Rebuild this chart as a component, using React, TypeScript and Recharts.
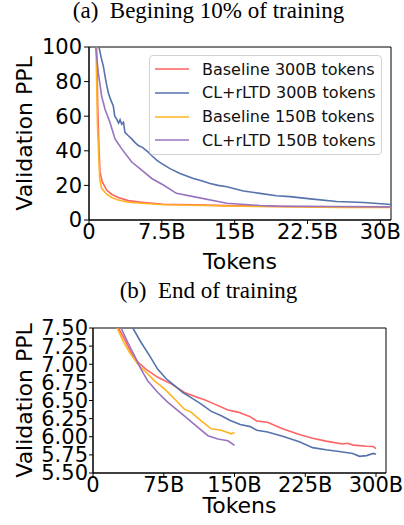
import { LineChart, Line, XAxis, YAxis, Legend, ReferenceArea } from 'recharts';

// (a) first 10% of training, x in billions of tokens
const blue300X = [1.03, 1.25, 1.48, 1.75, 1.99, 2.2, 2.5, 2.65, 2.85, 3.05, 3.2, 3.37, 3.55, 3.7, 4.0, 4.4, 4.7, 5.08, 5.5, 6.1, 6.5, 7.0, 7.5, 8.34, 9.37, 10.75, 11.5, 12.47, 13.3, 14.2, 15.9, 17.6, 19.3, 20.7, 22.8, 25.5, 28.3, 31.1];
const blue300Y = [100, 94, 88.8, 80, 73.5, 70, 65.9, 60, 58.3, 56, 58, 55.4, 56.5, 50.7, 49, 46.9, 45, 43, 42, 39.2, 37, 34.5, 32.6, 29.7, 26.9, 24, 22.8, 21.1, 20, 19.2, 16.8, 15.4, 14, 13.5, 12.2, 10.7, 10.1, 9.0];
const purple150X = [0.69, 0.96, 1.3, 1.65, 2.16, 2.68, 3.37, 4.4, 5.43, 6.46, 7.66, 9.0, 10.75, 14.2, 17.6, 19.3, 25, 31.1];
const purple150Y = [100, 85, 71.6, 64, 56.4, 46.9, 41.1, 33.5, 28.8, 24, 20.2, 15.4, 13.5, 9.7, 8.4, 8.0, 7.8, 7.6];
const red300X = [0.79, 0.9, 1.03, 1.13, 1.37, 1.82, 2.33, 3.0, 4.05, 5.43, 7.66, 10.75, 14.2, 17.6, 22, 26, 31.1];
const red300Y = [100, 65.9, 41, 27.8, 22, 17.3, 14.9, 13, 11.2, 10.3, 9.1, 8.8, 8.3, 8.0, 7.7, 7.5, 7.4];
const orange150X = [0.72, 0.87, 1.1, 1.3, 1.82, 2.33, 3.0, 4.05, 5.43, 7.66, 10.75, 14.2, 17.6, 22, 26, 31.1];
const orange150Y = [100, 55, 24, 18.3, 14.9, 13, 11.6, 10.3, 9.7, 8.8, 8.5, 8.1, 7.8, 7.5, 7.3, 7.2];

// (b) end of training
const redEndX = [27, 33.3, 40.4, 47.5, 56.3, 68.7, 82.9, 97, 111, 118.3, 129, 143, 153.7, 166, 173.6, 185, 201, 218.7, 232.8, 247, 264.7, 270, 276, 290, 297, 300];
const redEndY = [7.5, 7.35, 7.165, 7.03, 6.93, 6.82, 6.73, 6.61, 6.54, 6.51, 6.45, 6.37, 6.34, 6.28, 6.217, 6.2, 6.11, 6.03, 5.98, 5.94, 5.9, 5.91, 5.885, 5.87, 5.865, 5.836];
const blueEndX = [42.2, 51, 59.9, 68.7, 77.6, 86.5, 95.3, 104, 114.7, 125.4, 136, 145, 156, 166.7, 173.6, 185, 201, 218.7, 232.8, 247, 264.7, 275.4, 282.5, 290, 297, 300];
const blueEndY = [7.5, 7.3, 7.12, 6.93, 6.8, 6.705, 6.61, 6.54, 6.45, 6.35, 6.29, 6.227, 6.17, 6.14, 6.09, 6.065, 6.006, 5.93, 5.85, 5.82, 5.79, 5.77, 5.73, 5.74, 5.77, 5.76];
const orangeEndX = [25.5, 31.6, 38.6, 47.5, 56.3, 65.2, 75.8, 86.5, 97, 104, 114.7, 125.4, 136, 146.6, 150];
const orangeEndY = [7.5, 7.33, 7.165, 7.0, 6.89, 6.77, 6.66, 6.52, 6.38, 6.34, 6.22, 6.11, 6.09, 6.04, 6.06];
const purpleEndX = [29.8, 36.9, 43.9, 51, 58.1, 68.7, 79.4, 90, 100.6, 111.2, 121.9, 132.5, 143, 150];
const purpleEndY = [7.5, 7.3, 7.12, 6.93, 6.77, 6.61, 6.475, 6.36, 6.245, 6.13, 6.015, 5.97, 5.945, 5.88];

const seriesNames = ['Baseline 300B tokens', 'CL+rLTD 300B tokens', 'Baseline 150B tokens', 'CL+rLTD 150B tokens'];
const topXTicks = [0, 7.5, 15, 22.5, 30];
const topYTicks = [0, 20, 40, 60, 80, 100];
const endXTicks = [0, 75, 150, 225, 300];
const endYTicks = [5.5, 5.75, 6.0, 6.25, 6.5, 6.75, 7.0, 7.25, 7.5];

const COLORS = ['#ff6262', '#5572ad', '#ffb320', '#9873bf'];
const FONT = 'DejaVu Sans, sans-serif';
const SERIF = 'Liberation Serif, Times New Roman, serif';

const zip = (xs: number[], ys: number[]) => xs.map((x, i) => ({ x, y: ys[i] }));

const topSeries = [zip(red300X, red300Y), zip(blue300X, blue300Y), zip(orange150X, orange150Y), zip(purple150X, purple150Y)];
const endSeries = [zip(redEndX, redEndY), zip(blueEndX, blueEndY), zip(orangeEndX, orangeEndY), zip(purpleEndX, purpleEndY)];

const tickStyle = { fontSize: 21, fill: '#000', fontFamily: FONT };
const labelStyle = { fontSize: 22, fill: '#000', fontFamily: FONT };

const fmtB = (v: number) => (v === 0 ? '0' : `${v}B`);

// legend keeps the plotting order (recharts would sort it by name)
function LegendBox() {
  return (
    <div style={{ width: 233, height: 100, boxSizing: 'border-box', border: '1px solid #d2d2d2', borderRadius: 4, background: 'rgba(255,255,255,0.85)', position: 'relative', fontFamily: FONT, fontSize: 16 }}>
      {seriesNames.map((name, i) => (
        <div key={name} style={{ position: 'absolute', left: 4, top: 2 + i * 23.8, height: 22, display: 'flex', alignItems: 'center' }}>
          <svg width={36} height={6} style={{ marginRight: 12 }}>
            <line x1={1} y1={3} x2={35} y2={3} stroke={COLORS[i]} strokeWidth={1.6} />
          </svg>
          <span style={{ color: '#111', whiteSpace: 'nowrap' }}>{name}</span>
        </div>
      ))}
    </div>
  );
}

function Title({ text, top }: { text: string; top: number }) {
  return (
    <svg width={404} height={30} style={{ position: 'absolute', left: 0, top, overflow: 'visible' }}>
      <text x={208.5} y={17.5} textAnchor="middle" fontFamily={SERIF} fontSize={23} fill="#000" style={{ whiteSpace: 'pre' }}>
        {text}
      </text>
    </svg>
  );
}

export default function App() {
  return (
    <div style={{ position: 'absolute', left: 0, top: 0, width: 404, height: 525, background: '#fff', overflow: 'hidden' }}>
      <Title text={'(a)  Begining 10% of training'} top={0} />
      <div style={{ position: 'absolute', left: 0, top: 30 }}>
        <LineChart width={404} height={260} margin={{ top: 17, right: 13, bottom: 20, left: 0 }}>
          <XAxis
            type="number"
            dataKey="x"
            domain={[0, 31.1]}
            ticks={topXTicks}
            interval={0}
            tickFormatter={fmtB}
            allowDataOverflow
            height={50}
            tick={tickStyle}
            tickSize={4}
            tickMargin={0}
            stroke="#000"
            label={{ value: 'Tokens', position: 'insideBottom', offset: 1, style: labelStyle }}
          />
          <YAxis
            type="number"
            dataKey="y"
            domain={[0, 100]}
            ticks={topYTicks}
            interval={0}
            allowDataOverflow
            width={89}
            tick={tickStyle}
            tickSize={5}
            tickMargin={2}
            stroke="#000"
            label={{ value: 'Validation PPL', angle: -90, position: 'insideLeft', offset: 24, style: { ...labelStyle, textAnchor: 'middle' } }}
          />
          <ReferenceArea x1={0} x2={31.1} y1={0} y2={100} fill="none" stroke="#000" strokeWidth={1} ifOverflow="visible" />
          {topSeries.map((d, i) => (
            <Line key={seriesNames[i]} data={d} dataKey="y" name={seriesNames[i]} stroke={COLORS[i]} strokeWidth={1.6} dot={false} isAnimationActive={false} />
          ))}
          <Legend
            layout="horizontal"
            verticalAlign="middle"
            align="center"
            content={() => <LegendBox />}
            wrapperStyle={{ position: 'absolute', left: 149, top: 25, width: 233, height: 100 }}
          />
        </LineChart>
      </div>
      <Title text={'(b)  End of training'} top={280} />
      <div style={{ position: 'absolute', left: 0, top: 310 }}>
        <LineChart width={404} height={215} margin={{ top: 18, right: 18, bottom: 12, left: 0 }}>
          <XAxis
            type="number"
            dataKey="x"
            domain={[0, 310.6]}
            ticks={endXTicks}
            interval={0}
            tickFormatter={fmtB}
            allowDataOverflow
            height={40}
            tick={tickStyle}
            tickSize={4}
            tickMargin={0}
            stroke="#000"
            label={{ value: 'Tokens', position: 'insideBottom', offset: 0, style: labelStyle }}
          />
          <YAxis
            type="number"
            dataKey="y"
            domain={[5.5, 7.5]}
            ticks={endYTicks}
            interval={0}
            tickFormatter={(v: number) => v.toFixed(2)}
            allowDataOverflow
            width={93}
            tick={tickStyle}
            tickSize={4}
            tickMargin={1}
            stroke="#000"
            label={{ value: 'Validation PPL', angle: -90, position: 'insideLeft', offset: 24, style: { ...labelStyle, textAnchor: 'middle' } }}
          />
          <ReferenceArea x1={0} x2={310.6} y1={5.5} y2={7.5} fill="none" stroke="#000" strokeWidth={1} ifOverflow="visible" />
          {endSeries.map((d, i) => (
            <Line key={seriesNames[i]} data={d} dataKey="y" name={seriesNames[i]} stroke={COLORS[i]} strokeWidth={1.6} dot={false} isAnimationActive={false} />
          ))}
        </LineChart>
      </div>
    </div>
  );
}
